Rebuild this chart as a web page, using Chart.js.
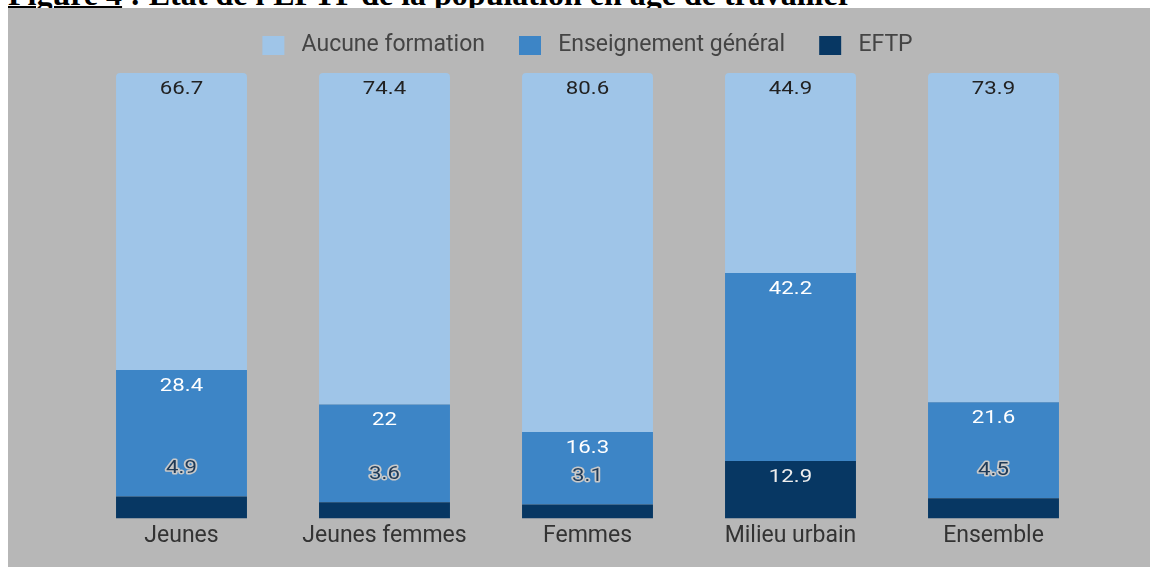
<!DOCTYPE html>
<html>
<head>
<meta charset="utf-8">
<script src="https://cdn.jsdelivr.net/npm/chart.js@4"></script>
<style>
  html, body { margin: 0; padding: 0; background: #fff; overflow: hidden; }
  body { width: 1150px; height: 567px; position: relative; }
  #title {
    position: absolute; left: 8px; top: -22px; margin: 0;
    font: bold 32px "Liberation Serif", "Times New Roman", serif;
    line-height: 32px; white-space: nowrap; color: #000;
  }
  #title u { text-decoration-thickness: 2px; text-underline-offset: 1px; }
  #box { position: absolute; left: 8px; top: 8px; width: 1142px; height: 559px; background: #b7b7b7; }
</style>
</head>
<body>
<div id="title"><u>Figure 4</u> : Etat de l'EFTP de la population en âge de travailler</div>
<div id="box"><canvas id="chart" width="1142" height="559"></canvas></div>
<script>
const categories = ['Jeunes', 'Jeunes femmes', 'Femmes', 'Milieu urbain', 'Ensemble'];
const aucune = [66.7, 74.4, 80.6, 44.9, 73.9];
const general = [28.4, 22, 16.3, 42.2, 21.6];
const eftp = [4.9, 3.6, 3.1, 12.9, 4.5];

const colors = {
  aucune: '#9fc5e8',
  general: '#3d85c6',
  eftp: '#073763'
};

// labels drawn on the bars, small ones pushed above the segment
const barLabels = {
  id: 'barLabels',
  afterDatasetsDraw(chart) {
    const ctx = chart.ctx;
    chart.data.datasets.forEach((ds, i) => {
      chart.getDatasetMeta(i).data.forEach((bar, j) => {
        const txt = String(ds.data[j]);
        const h = bar.base - bar.y;
        const inside = h > 40;
        const y = inside ? bar.y + 16 : bar.y - 28;
        ctx.save();
        ctx.translate(bar.x, y);
        ctx.scale(1.2, 1);
        ctx.font = '18.5px Roboto';
        ctx.textAlign = 'center';
        ctx.textBaseline = 'middle';
        if (inside) {
          ctx.fillStyle = ds.labelColor;
        } else {
          ctx.lineWidth = 3;
          ctx.strokeStyle = '#c9c9c9';
          ctx.lineJoin = 'round';
          ctx.strokeText(txt, 0, 0);
          ctx.fillStyle = '#1f3a57';
        }
        ctx.fillText(txt, 0, 0);
        ctx.restore();
      });
    });
  }
};

const legendHeight = {
  id: 'legendHeight',
  beforeInit(chart) {
    const fit = chart.legend.fit;
    chart.legend.fit = function () {
      fit.bind(chart.legend)();
      this.height = 73;
    };
  }
};

new Chart(document.getElementById('chart'), {
  type: 'bar',
  data: {
    labels: categories,
    datasets: [
      { label: 'EFTP', data: eftp, backgroundColor: colors.eftp, labelColor: '#eeeeee' },
      { label: 'Enseignement général', data: general, backgroundColor: colors.general, labelColor: '#ffffff' },
      { label: 'Aucune formation', data: aucune, backgroundColor: colors.aucune, labelColor: '#222222',
        borderRadius: 4 }
    ]
  },
  options: {
    responsive: false,
    animation: false,
    layout: { padding: { left: 72, right: 55, top: -8, bottom: 13 } },
    datasets: { bar: { categoryPercentage: 1, barPercentage: 0.645 } },
    plugins: {
      tooltip: { enabled: false },
      legend: {
        reverse: true,
        labels: {
          boxWidth: 22, boxHeight: 19, padding: 34,
          color: '#444', font: { family: 'Roboto', size: 23 },
          generateLabels(chart) {
            return Chart.defaults.plugins.legend.labels.generateLabels(chart)
              .map(item => Object.assign(item, { text: ' ' + item.text }));
          }
        }
      }
    },
    scales: {
      x: {
        stacked: true,
        grid: { display: false, drawTicks: false },
        border: { display: false },
        ticks: { color: '#333', padding: 4, font: { family: 'Roboto', size: 23 } }
      },
      y: { stacked: true, display: false, min: 0, max: 100 }
    }
  },
  plugins: [barLabels, legendHeight]
});
</script>
</body>
</html>
